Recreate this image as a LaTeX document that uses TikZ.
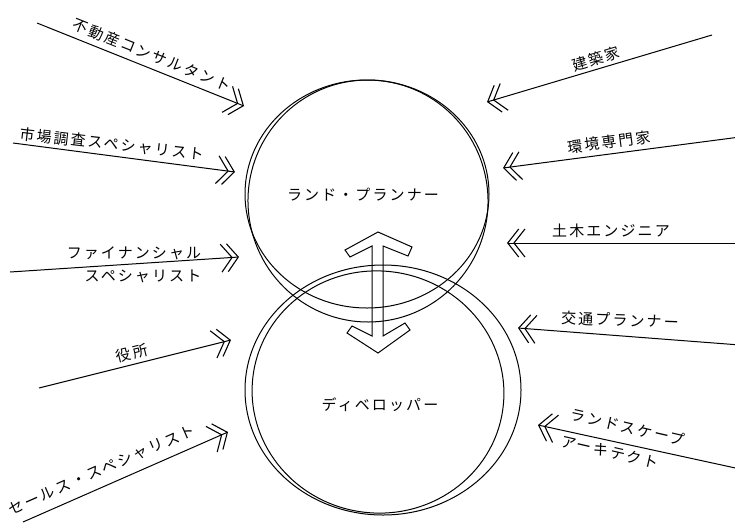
\documentclass[tikz,border=0pt]{standalone}
\usepackage{fontspec}
\newfontfamily\jp[LetterSpace=14]{Noto Sans CJK JP}
\usetikzlibrary{arrows.meta,shapes.geometric}
\tikzset{
  pen/.style={line width=1pt, black},
  conn/.style={pen, -{Straight Barb[length=11pt,width=28pt,line width=1.1pt,sep=-6pt]Straight Barb[length=11pt,width=28pt,line width=1.1pt]}},
  lbl/.style={font=\jp\fontsize{15}{17}\selectfont, inner sep=0pt},
  ring/.style={pen, draw, ellipse, inner sep=0pt},
}
\begin{document}
\begin{tikzpicture}[x=1pt,y=-1pt]
\useasboundingbox (0,0) rectangle (735,525);

% circles (hand-drawn double strokes)
\node[ring, minimum width=244pt, minimum height=228pt] (planring) at (367,194) {};
\draw[pen, rotate around={6:(368,201)}] (368,201) ellipse [x radius=120, y radius=121];
\node[ring, minimum width=276pt, minimum height=250pt] (devring) at (383,390) {};
\draw[pen, rotate around={-8:(378,392)}] (378,392) ellipse [x radius=126, y radius=121];

\node[lbl] (planner) at (363,195) {ランド・プランナー};
\node[lbl] (developer) at (380,405) {ディベロッパー};

% hollow double arrow
\draw[pen, line join=miter] (378,232) -- (412,247) -- (408,256) -- (383,246) -- (383,336)
  -- (405,323) -- (410,330) -- (378,353) -- (347,333) -- (352,326) -- (372,336)
  -- (372,246) -- (350,257) -- (345,250) -- cycle;

% left connectors
\coordinate (a1s) at (37,23);   \coordinate (a1e) at (244,106);
\coordinate (a2s) at (13,143);  \coordinate (a2e) at (235,172);
\coordinate (a3s) at (10,272);  \coordinate (a3e) at (239,257);
\coordinate (a4s) at (39,388);  \coordinate (a4e) at (231,340);
\coordinate (a5s) at (23,522);  \coordinate (a5e) at (228,432);
\draw[conn] (a1s) -- (a1e);
\draw[conn] (a2s) -- (a2e);
\draw[conn] (a3s) -- (a3e);
\draw[conn] (a4s) -- (a4e);
\draw[conn] (a5s) -- (a5e);

\node[lbl, rotate=-21.8] (l1) at (152,55) {不動産コンサルタント};
\node[lbl, rotate=-6.5] (l2) at (112,144) {市場調査スペシャリスト};
\node[lbl] (l3a) at (134,253) {ファイナンシャル};
\node[lbl] (l3b) at (143,276) {スペシャリスト};
\node[lbl, rotate=14] (l4) at (132,353) {役所};
\node[lbl, rotate=23.7] (l5) at (102,470) {セールス・スペシャリスト};

% right connectors
\coordinate (b1s) at (712,35);  \coordinate (b1e) at (487,102);
\coordinate (b2s) at (740,137); \coordinate (b2e) at (503,168);
\coordinate (b3s) at (740,243); \coordinate (b3e) at (507,243);
\coordinate (b4s) at (740,345); \coordinate (b4e) at (518,328);
\coordinate (b5s) at (740,469); \coordinate (b5e) at (538,425);
\draw[conn] (b1s) -- (b1e);
\draw[conn] (b2s) -- (b2e);
\draw[conn] (b3s) -- (b3e);
\draw[conn] (b4s) -- (b4e);
\draw[conn] (b5s) -- (b5e);

\node[lbl, rotate=16.6] (r1) at (596,59) {建築家};
\node[lbl, rotate=7.4] (r2) at (609,142) {環境専門家};
\node[lbl] (r3) at (611,231) {土木エンジニア};
\node[lbl, rotate=-2] (r4) at (620,320) {交通プランナー};
\node[lbl, rotate=-13] (r5a) at (628,427) {ランドスケープ};
\node[lbl, rotate=-13] (r5b) at (610,452) {アーキテクト};
\end{tikzpicture}
\end{document}
